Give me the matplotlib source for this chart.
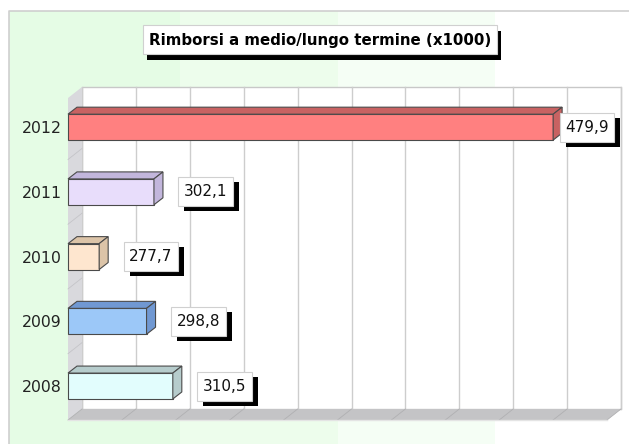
import numpy as np
import matplotlib
matplotlib.use('Agg')
import matplotlib.pyplot as plt
from matplotlib.patches import Rectangle, Polygon
from matplotlib.transforms import IdentityTransform

years = ['2008', '2009', '2010', '2011', '2012']
values = [310.5, 298.8, 277.7, 302.1, 479.9]
front_colors = ['#e2fdfd', '#9cc8f8', '#fee6cf', '#e8ddfb', '#ff8080']
shade_colors = ['#b6cccc', '#7098d2', '#dcc4a8', '#c2b6dc', '#c86262']
title = 'Rimborsi a medio/lungo termine (x1000)'

W, H = 629, 444
fig = plt.figure(figsize=(W / 100, H / 100), dpi=100)
fig.patch.set_facecolor('white')

# background: green bands + frame (pixel coords)
bg = fig.add_axes([0, 0, 1, 1])
bg.set_xlim(0, W)
bg.set_ylim(H, 0)
bg.axis('off')
for x0, x1, c in [(9, 180, '#e5fce5'), (180, 338, '#edfdec'), (338, 495, '#f5fef5')]:
    bg.add_patch(Rectangle((x0, 11.5), x1 - x0, H, color=c, lw=0))
bg.plot([9, 9, W], [H, 11.5, 11.5], color='#cfcfcf', lw=1.2)

title_txt = bg.text(320, 40, title, ha='center', va='center', fontsize=10.8, fontweight='bold',
                    color='black', zorder=6)

# main axes = front plane of the 3D box
ax_l, ax_r, ax_t, ax_b = 68, 607, 98, 420
ax = fig.add_axes([ax_l / W, (H - ax_b) / H, (ax_r - ax_l) / W, (ax_b - ax_t) / H])
xmin, xmax = 0.95 * min(values), 1.05 * max(values)
ymin, ymax = -0.525, 4.45
ax.set_xlim(xmin, xmax)
ax.set_ylim(ymin, ymax)
ax.patch.set_visible(False)
for s in ax.spines.values():
    s.set_visible(False)
ax.set_xticks([])

ux = (xmax - xmin) / (ax_r - ax_l)
uy = (ymax - ymin) / (ax_b - ax_t)
wdx, wdy = 14 * ux, 11 * uy
bdx, bdy = 9 * ux, 7 * uy

# back wall and grid
ax.add_patch(Rectangle((xmin + wdx, ymin + wdy), xmax - xmin, ymax - ymin, fc='white',
                       ec='#c8c8c8', lw=1, clip_on=False, zorder=1))
grid = np.linspace(xmin, xmax, 11)
for g in grid:
    ax.plot([g + wdx, g + wdx], [ymin + wdy, ymax + wdy], color='#cdcdcd', lw=1,
            clip_on=False, zorder=1.5)

# left wall
ax.add_patch(Polygon([(xmin, ymin), (xmin + wdx, ymin + wdy), (xmin + wdx, ymax + wdy), (xmin, ymax)],
                     closed=True, fc='#d9d9dd', ec='none', clip_on=False, zorder=2))
for k in range(len(years) - 1):
    yb = k + 0.5
    ax.plot([xmin, xmin + wdx], [yb, yb + wdy], color='#c4c4c8', lw=0.6, clip_on=False, zorder=2.1)

# floor
ax.add_patch(Polygon([(xmin, ymin), (xmax, ymin), (xmax + wdx, ymin + wdy), (xmin + wdx, ymin + wdy)],
                     closed=True, fc='#c4c4c6', ec='none', clip_on=False, zorder=2))
for g in grid:
    ax.plot([g, g + wdx], [ymin, ymin + wdy], color='#b0b0b2', lw=0.6, clip_on=False, zorder=2.1)
ax.plot([xmin, xmax], [ymin, ymin], color='#e4e4e4', lw=1, clip_on=False, zorder=2.2)

# bars
bh = 0.4
ypos = np.arange(len(years))
widths = [v - xmin for v in values]
ax.barh(ypos, widths, left=xmin, height=bh, color=front_colors, edgecolor='#4a4a4a',
        lw=0.8, clip_on=False, zorder=3)
labels = []
for k, v in enumerate(values):
    top, bot = k + bh / 2, k - bh / 2
    ax.add_patch(Polygon([(xmin, top), (v, top), (v + bdx, top + bdy), (xmin + bdx, top + bdy)],
                         closed=True, fc=shade_colors[k], ec='#4a4a4a', lw=0.8, clip_on=False, zorder=3))
    ax.add_patch(Polygon([(v, bot), (v, top), (v + bdx, top + bdy), (v + bdx, bot + bdy)],
                         closed=True, fc=shade_colors[k], ec='#4a4a4a', lw=0.8, clip_on=False, zorder=3))

    lx = min(v + 30 * ux, xmax - 42 * ux)
    lab = f'{v:.1f}'.replace('.', ',')
    t = ax.text(lx, k, lab, ha='left', va='center', fontsize=11, color='#111111', zorder=6,
                clip_on=False)
    labels.append(t)

ax.set_yticks(ypos)
ax.set_yticklabels(years, fontsize=11.3, color='#222222')
ax.tick_params(axis='y', length=0, pad=4.5)

# white boxes with black drop shadows, sized in pixels around the texts
fig.canvas.draw()
renderer = fig.canvas.get_renderer()
boxes = [(title_txt, bg, 5.5, 29, (4, 6))] + [(t, ax, 5.5, 29, (6, 5)) for t in labels]
for t, host, padx, bh_px, off in boxes:
    e = t.get_window_extent(renderer)
    cy = (e.y0 + e.y1) / 2
    bx0, by0 = e.x0 - padx, cy - bh_px / 2
    bw = e.width + 2 * padx
    host.add_patch(Rectangle((bx0 + off[0], by0 - off[1]), bw, bh_px, fc='black', ec='none',
                             transform=IdentityTransform(), clip_on=False, zorder=4))
    host.add_patch(Rectangle((bx0, by0), bw, bh_px, fc='white', ec='#d0d0d0', lw=0.8,
                             transform=IdentityTransform(), clip_on=False, zorder=5))

fig.savefig('out.png', dpi=100)
